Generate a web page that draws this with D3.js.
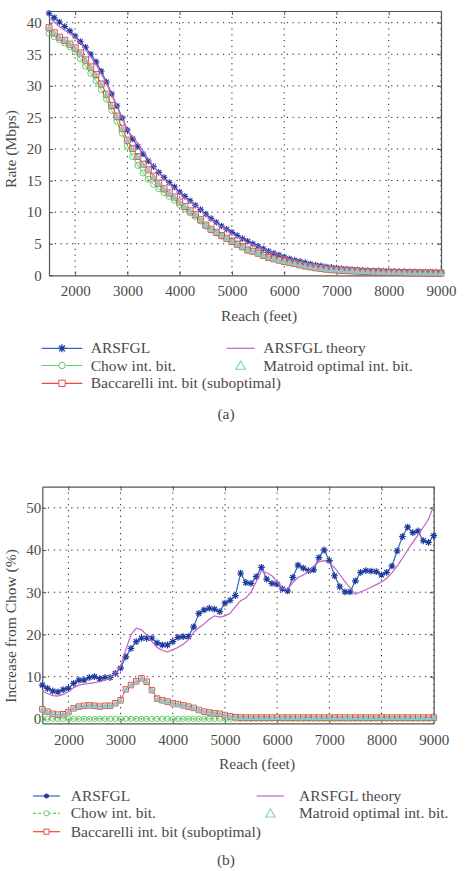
<!DOCTYPE html>
<html>
<head>
<meta charset="utf-8">
<script src="https://cdn.jsdelivr.net/npm/d3@7"></script>
<style>
  body { margin: 0; background: #fff; }
</style>
</head>
<body>
<svg id="chart" width="467" height="871"></svg>
<script>
// reach in feet, one sample every 100 ft
const reach = d3.range(1500, 9001, 100);
const xTicks = [2000, 3000, 4000, 5000, 6000, 7000, 8000, 9000];
const rateTicks = [0, 5, 10, 15, 20, 25, 30, 35, 40];
const gainTicks = [0, 10, 20, 30, 40, 50];

// (a) rate in Mbps
const arsfglRate = [
  41.5, 40.8, 40.1, 39.4, 38.7, 37.9, 37.0, 36.1, 35.0, 33.8,
  32.3, 30.6, 28.7, 26.8, 24.9, 23.0, 21.6, 20.4, 19.2, 18.1,
  17.2, 16.3, 15.5, 14.7, 14.0, 13.2, 12.5, 11.8, 11.1, 10.4,
  9.7, 9.0, 8.4, 7.8, 7.3, 6.8, 6.3, 5.8, 5.4, 5.0,
  4.6, 4.2, 3.8, 3.5, 3.2, 2.9, 2.6, 2.4, 2.2, 2.0,
  1.8, 1.6, 1.5, 1.35, 1.25, 1.15, 1.05, 0.98, 0.92, 0.86,
  0.81, 0.77, 0.73, 0.70, 0.67, 0.64, 0.62, 0.60, 0.58, 0.56,
  0.55, 0.53, 0.52, 0.51, 0.50, 0.49
];
const chowRate = [
  38.3, 37.8, 37.3, 36.8, 36.2, 35.4, 34.3, 33.1, 32.0, 30.8,
  29.4, 27.9, 26.1, 24.4, 22.5, 20.5, 18.8, 17.4, 16.2, 15.2,
  14.4, 13.7, 13.1, 12.5, 11.9, 11.2, 10.5, 9.9, 9.3, 8.6,
  7.8, 7.2, 6.7, 6.2, 5.8, 5.3, 4.9, 4.5, 4.0, 3.8,
  3.5, 3.15, 2.8, 2.6, 2.4, 2.2, 2.0, 1.85, 1.65, 1.47,
  1.33, 1.19, 1.11, 0.98, 0.89, 0.84, 0.78, 0.75, 0.71, 0.66,
  0.61, 0.57, 0.54, 0.52, 0.50, 0.48, 0.46, 0.44, 0.41, 0.39,
  0.38, 0.37, 0.36, 0.36, 0.35, 0.34
];
const baccRate = [
  39.2, 38.4, 37.7, 37.2, 36.6, 36.0, 35.2, 34.1, 33.0, 31.8,
  30.3, 28.7, 26.9, 25.2, 23.3, 21.4, 20.1, 18.8, 17.6, 16.7,
  15.7, 14.6, 13.7, 13.05, 12.4, 11.6, 10.9, 10.2, 9.6, 8.8,
  7.96, 7.3, 6.8, 6.3, 5.87, 5.35, 4.93, 4.52, 4.01, 3.81,
  3.51, 3.16, 2.81, 2.61, 2.41, 2.21, 2.01, 1.86, 1.66, 1.48,
  1.34, 1.2, 1.11, 0.98, 0.89, 0.84, 0.78, 0.75, 0.71, 0.66,
  0.61, 0.57, 0.54, 0.52, 0.50, 0.48, 0.46, 0.44, 0.41, 0.39,
  0.38, 0.37, 0.36, 0.36, 0.35, 0.34
];
const theoryRate = [
  40.8, 40.1, 39.4, 38.8, 38.3, 37.7, 36.8, 35.7, 34.6, 33.4,
  31.9, 30.4, 28.5, 26.8, 24.9, 23.0, 21.9, 20.9, 19.7, 18.4,
  17.3, 16.2, 15.3, 14.5, 13.8, 13.0, 12.3, 11.65, 11.0, 10.4,
  9.5, 8.8, 8.3, 7.7, 7.2, 6.6, 6.1, 5.7, 5.1, 4.9,
  4.55, 4.17, 3.78, 3.5, 3.21, 2.92, 2.62, 2.42, 2.18, 1.96,
  1.78, 1.61, 1.51, 1.34, 1.22, 1.15, 1.06, 1.01, 0.94, 0.86,
  0.79, 0.74, 0.71, 0.68, 0.66, 0.64, 0.61, 0.59, 0.56, 0.54,
  0.53, 0.52, 0.52, 0.52, 0.52, 0.51
];
const matroidRate = baccRate; // triangles sit inside the squares

// (b) increase from Chow in %
const arsfglGain = [
  8.0, 7.2, 6.6, 6.4, 6.9, 7.2, 8.4, 9.2, 9.2, 9.8,
  10.0, 9.5, 9.8, 9.8, 10.8, 12.0, 14.7, 16.7, 18.3, 19.1,
  19.1, 19.1, 18.0, 17.5, 17.5, 18.3, 19.3, 19.5, 19.5, 21.8,
  25.0, 25.8, 26.2, 26.0, 25.4, 27.4, 28.1, 29.2, 34.5, 32.3,
  32.1, 33.7, 35.9, 33.1, 32.1, 31.9, 30.8, 30.3, 33.5, 36.4,
  35.7, 35.1, 35.3, 38.2, 40.0, 37.5, 33.9, 31.3, 30.1, 30.1,
  32.7, 34.7, 35.1, 35.0, 34.9, 34.1, 34.7, 36.2, 39.8, 43.2,
  45.4, 44.1, 44.5, 42.2, 41.8, 43.4
];
const chowGain = [
  0, 0, 0, 0, 0, 0, 0, 0, 0, 0, 0, 0, 0, 0, 0, 0, 0, 0, 0, 0,
  0, 0, 0, 0, 0, 0, 0, 0, 0, 0, 0, 0, 0, 0, 0, 0, 0, 0, 0, 0,
  0, 0, 0, 0, 0, 0, 0, 0, 0, 0, 0, 0, 0, 0, 0, 0, 0, 0, 0, 0,
  0, 0, 0, 0, 0, 0, 0, 0, 0, 0, 0, 0, 0, 0, 0, 0
];
const baccGain = [
  2.3, 1.7, 1.2, 1.0, 1.1, 1.6, 2.5, 2.9, 3.1, 3.2,
  3.1, 2.9, 3.1, 3.1, 3.7, 4.4, 7.0, 8.0, 8.9, 9.6,
  8.8, 6.8, 4.8, 4.4, 4.1, 3.7, 3.5, 3.2, 2.9, 2.6,
  2.1, 1.7, 1.5, 1.3, 1.2, 0.9, 0.6, 0.4, 0.3, 0.3,
  0.3, 0.3, 0.3, 0.3, 0.3, 0.3, 0.3, 0.3, 0.3, 0.3,
  0.3, 0.3, 0.3, 0.3, 0.3, 0.3, 0.3, 0.3, 0.3, 0.3,
  0.3, 0.3, 0.3, 0.3, 0.3, 0.3, 0.3, 0.3, 0.3, 0.3,
  0.3, 0.3, 0.3, 0.3, 0.3, 0.3
];
const theoryGain = [
  6.6, 6.0, 5.5, 5.4, 5.8, 6.4, 7.4, 8.0, 8.2, 8.4,
  8.6, 8.8, 9.2, 9.8, 10.8, 12.4, 16.4, 19.9, 21.5, 21.1,
  19.9, 18.3, 16.9, 16.2, 15.9, 16.4, 16.9, 17.7, 18.7, 20.5,
  21.6, 22.5, 23.6, 24.4, 24.1, 24.4, 25.0, 26.6, 28.0, 28.6,
  30.1, 32.5, 35.1, 34.6, 33.9, 32.5, 30.9, 30.7, 32.3, 33.5,
  34.1, 34.9, 36.2, 37.2, 37.5, 37.0, 35.8, 34.2, 32.5, 31.0,
  29.5, 30.1, 30.6, 31.2, 31.8, 32.4, 33.3, 34.6, 36.2, 38.0,
  40.0, 41.8, 43.6, 45.4, 47.3, 50.5
];
const matroidGain = baccGain;

const legendNames = [
  'ARSFGL', 'Chow int. bit.', 'Baccarelli int. bit (suboptimal)',
  'ARSFGL theory', 'Matroid optimal int. bit.'
];

const colors = {
  blue: '#3562c4', star: '#1e3a9c', green: '#5fd05f', red: '#ec4a3a',
  purple: '#c163c4', cyan: '#7ccfd2', triFill: '#a9bcbc', text: '#4a4a4a'
};

const FONT = '"Liberation Serif"';
const svg = d3.select('#chart');

// matlab style '*' marker
function asterisk(r) {
  const a = r * 0.72;
  return `M${-r},0H${r}M0,${-r}V${r}M${-a},${-a}L${a},${a}M${-a},${a}L${a},${-a}`;
}

function label(sel, size) {
  return sel.attr('font-family', FONT).attr('font-size', size).attr('fill', colors.text);
}

function drawPanel(o) {
  const x = d3.scaleLinear().domain([1500, 9000]).range([o.left, o.right]);
  const y = d3.scaleLinear().domain(o.yDomain).range([o.bottom, o.top]);
  const g = svg.append('g');

  // dotted grid
  g.append('g').selectAll('line').data(xTicks).join('line')
    .attr('x1', d => x(d)).attr('x2', d => x(d))
    .attr('y1', o.top).attr('y2', o.bottom)
    .attr('stroke', '#222').attr('stroke-dasharray', '1.2,4.6');
  g.append('g').selectAll('line').data(o.yTicks.filter(d => y(d) < o.bottom - 2)).join('line')
    .attr('x1', o.left).attr('x2', o.right)
    .attr('y1', d => y(d)).attr('y2', d => y(d))
    .attr('stroke', '#222').attr('stroke-dasharray', '1.2,4.6');

  // box with inward ticks
  const fmt = d3.format('d');
  const axes = [
    [d3.axisBottom(x).tickValues(xTicks).tickFormat(fmt).tickSize(-4).tickSizeOuter(0).tickPadding(o.xPad), `translate(0,${o.bottom})`],
    [d3.axisTop(x).tickValues(xTicks).tickSize(-4).tickSizeOuter(0).tickFormat(''), `translate(0,${o.top})`],
    [d3.axisLeft(y).tickValues(o.yTicks).tickFormat(fmt).tickSize(-4).tickSizeOuter(0).tickPadding(o.yPad), `translate(${o.left},0)`],
    [d3.axisRight(y).tickValues(o.yTicks).tickSize(-4).tickSizeOuter(0).tickFormat(''), `translate(${o.right},0)`]
  ];
  axes.forEach(([ax, tr]) => {
    const a = g.append('g').attr('transform', tr).call(ax).attr('font-family', FONT);
    a.select('.domain').attr('stroke', '#555').attr('stroke-width', 1.2);
    a.selectAll('.tick line').attr('stroke', '#555');
    label(a.selectAll('text'), 15);
  });

  const line = vals => d3.line().x((d, i) => x(reach[i])).y(d => y(d))(vals);
  const s = o.series;

  // ARSFGL
  g.append('path').attr('d', line(s.arsfgl)).attr('fill', 'none')
    .attr('stroke', colors.blue).attr('stroke-width', 1.2);
  g.append('g').selectAll('path').data(s.arsfgl).join('path')
    .attr('transform', (d, i) => `translate(${x(reach[i])},${y(d)})`)
    .attr('d', asterisk(o.starR)).attr('stroke', colors.star).attr('stroke-width', o.starW);

  // Chow
  g.append('path').attr('d', line(s.chow)).attr('fill', 'none')
    .attr('stroke', colors.green).attr('stroke-width', 1)
    .attr('stroke-dasharray', o.chowDash);
  g.append('g').selectAll('circle').data(s.chow).join('circle')
    .attr('cx', (d, i) => x(reach[i])).attr('cy', d => y(d)).attr('r', o.circleR)
    .attr('fill', 'none').attr('stroke', colors.green).attr('stroke-width', 1);

  // Baccarelli
  g.append('path').attr('d', line(s.bacc)).attr('fill', 'none')
    .attr('stroke', colors.red).attr('stroke-width', 1);
  g.append('g').selectAll('path').data(s.bacc).join('path')
    .attr('transform', (d, i) => `translate(${x(reach[i])},${y(d)})`)
    .attr('d', d3.symbol(d3.symbolSquare, o.squareA)())
    .attr('fill', 'none').attr('stroke', colors.red).attr('stroke-width', 1);

  // theory
  g.append('path').attr('d', line(s.theory)).attr('fill', 'none')
    .attr('stroke', colors.purple).attr('stroke-width', 1.2);

  // Matroid
  g.append('g').selectAll('path').data(s.matroid).join('path')
    .attr('transform', (d, i) => `translate(${x(reach[i])},${y(d) + 0.5})`)
    .attr('d', d3.symbol(d3.symbolTriangle, o.triA)())
    .attr('fill', colors.triFill).attr('stroke', colors.cyan).attr('stroke-width', 0.9);

  // axis titles
  label(g.append('text'), 15.5).attr('x', o.xTitle[0]).attr('y', o.xTitle[1])
    .attr('text-anchor', 'middle').text('Reach (feet)');
  label(g.append('text'), 15.5)
    .attr('transform', `translate(${o.yTitle[0]},${o.yTitle[1]}) rotate(-90)`)
    .attr('text-anchor', 'middle').text(o.yLabel);

  // legend
  const L = o.legend;
  const rows = [
    { col: 0, row: 0, kind: 'star', dash: null, color: colors.blue },
    { col: 0, row: 1, kind: 'circle', dash: o.chowDash, color: colors.green },
    { col: 0, row: 2, kind: 'square', dash: null, color: colors.red },
    { col: 1, row: 0, kind: 'none', dash: null, color: colors.purple },
    { col: 1, row: 1, kind: 'tri', dash: null, color: null }
  ];
  rows.forEach((r, k) => {
    const c = L.cols[r.col];
    const ly = L.rows[r.row];
    const lg = g.append('g');
    if (r.color) {
      lg.append('line').attr('x1', c.x1).attr('x2', c.x2).attr('y1', ly).attr('y2', ly)
        .attr('stroke', r.color).attr('stroke-width', 1.2)
        .attr('stroke-dasharray', r.dash);
    }
    const mx = (c.x1 + c.x2) / 2;
    if (r.kind === 'star') {
      lg.append('path').attr('transform', `translate(${mx},${ly})`).attr('d', asterisk(o.legStarR))
        .attr('stroke', colors.star).attr('stroke-width', 1.3);
    } else if (r.kind === 'circle') {
      lg.append('circle').attr('cx', mx).attr('cy', ly).attr('r', o.legCircleR)
        .attr('fill', 'white').attr('stroke', colors.green);
    } else if (r.kind === 'square') {
      lg.append('path').attr('transform', `translate(${mx},${ly})`)
        .attr('d', d3.symbol(d3.symbolSquare, o.legSquareA)())
        .attr('fill', 'white').attr('stroke', colors.red);
    } else if (r.kind === 'tri') {
      lg.append('path').attr('transform', `translate(${mx},${ly + 1})`)
        .attr('d', d3.symbol(d3.symbolTriangle, 40)())
        .attr('fill', 'none').attr('stroke', colors.cyan).attr('stroke-width', 1.1);
    }
    label(lg.append('text'), 15.5).attr('x', c.tx).attr('y', ly + 5).text(legendNames[k]);
  });

  label(g.append('text'), 15.5).attr('x', 226).attr('y', o.caption)
    .attr('text-anchor', 'middle').text(o.captionText);
}

drawPanel({
  left: 49, right: 441, top: 11, bottom: 275.3,
  yDomain: [0, 41.85], yTicks: rateTicks, xPad: 10.5, yPad: 7.3,
  series: { arsfgl: arsfglRate, chow: chowRate, bacc: baccRate, theory: theoryRate, matroid: matroidRate },
  starR: 3.3, starW: 1.1, circleR: 3, squareA: 36, triA: 14, chowDash: null,
  xTitle: [259, 320.5], yTitle: [16, 149], yLabel: 'Rate (Mbps)',
  legend: {
    rows: [348.3, 365.5, 383.3],
    cols: [{ x1: 41.7, x2: 82.3, tx: 90.7 }, { x1: 226.7, x2: 254.7, tx: 263.3 }]
  },
  legStarR: 4, legCircleR: 3.2, legSquareA: 40,
  caption: 419, captionText: '(a)'
});

drawPanel({
  left: 42.3, right: 433.7, top: 486.7, bottom: 723.3,
  yDomain: [-1.05, 55], yTicks: gainTicks, xPad: 11, yPad: 1,
  series: { arsfgl: arsfglGain, chow: chowGain, bacc: baccGain, theory: theoryGain, matroid: matroidGain },
  starR: 3.4, starW: 1.2, circleR: 2.6, squareA: 30, triA: 12, chowDash: '3,2',
  xTitle: [257, 769], yTitle: [16, 626], yLabel: 'Increase from Chow (%)',
  legend: {
    rows: [796, 813.3, 831.7],
    cols: [{ x1: 33, x2: 60, tx: 70.7 }, { x1: 256.7, x2: 284, tx: 299 }]
  },
  legStarR: 2.6, legCircleR: 2.6, legSquareA: 26,
  caption: 865, captionText: '(b)'
});
</script>
</body>
</html>
